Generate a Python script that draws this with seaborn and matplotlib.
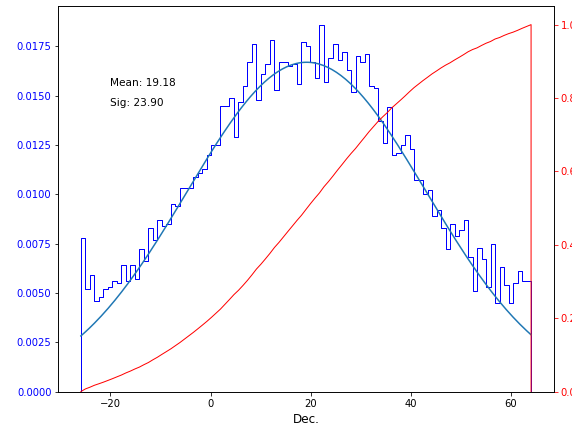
import numpy as np
import matplotlib
matplotlib.use("Agg")
import matplotlib.pyplot as plt
import seaborn as sns

# Dec. distribution: density histogram, 100 equal bins between dec_min and dec_max
dec_min = -25.9
dec_max = 64.0
n_bins = 100
density = [
    0.0078, 0.0052, 0.0059, 0.0046, 0.0048, 0.0052, 0.0053, 0.0056, 0.0055, 0.0064,
    0.0056, 0.0064, 0.0057, 0.0072, 0.0066, 0.0083, 0.0077, 0.0087, 0.0084, 0.0085,
    0.0095, 0.0094, 0.0103, 0.0103, 0.0103, 0.0109, 0.0111, 0.0113, 0.0120, 0.0125,
    0.0125, 0.0145, 0.0145, 0.0149, 0.0129, 0.0147, 0.0155, 0.0167, 0.0176, 0.0148,
    0.0161, 0.0166, 0.0178, 0.0153, 0.0167, 0.0167, 0.0165, 0.0166, 0.0156, 0.0177,
    0.0175, 0.0167, 0.0159, 0.0186, 0.0157, 0.0169, 0.0176, 0.0168, 0.0172, 0.0163,
    0.0152, 0.0170, 0.0167, 0.0171, 0.0155, 0.0154, 0.0137, 0.0126, 0.0144, 0.0120,
    0.0121, 0.0125, 0.0130, 0.0123, 0.0107, 0.0107, 0.0100, 0.0102, 0.0089, 0.0092,
    0.0083, 0.0072, 0.0085, 0.0079, 0.0082, 0.0087, 0.0068, 0.0051, 0.0073, 0.0067,
    0.0053, 0.0075, 0.0045, 0.0063, 0.0054, 0.0045, 0.0055, 0.0061, 0.0056, 0.0056,
]

# gaussian fit parameters shown on the plot
mean_dec = 19.18
sig_dec = 23.90

edges = np.linspace(dec_min, dec_max, n_bins + 1)
heights = np.array(density)
cumulative = np.cumsum(heights) / heights.sum()

# step outline of the histogram (like histtype='step'), closed down to 0 at both ends
step_x = np.repeat(edges, 2)
step_y = np.concatenate([[0.0], np.repeat(heights, 2), [0.0]])

xs = np.linspace(dec_min, dec_max, 200)
gauss = np.exp(-0.5 * ((xs - mean_dec) / sig_dec) ** 2) / (sig_dec * np.sqrt(2 * np.pi))

# cumulative curve: starts at 0, ends at 1, then drops back to 0 at the last edge
cum_x = np.concatenate([edges, [dec_max]])
cum_y = np.concatenate([[0.0], cumulative, [0.0]])

fig = plt.figure(figsize=(572 / 72, 425 / 72), dpi=72)
ax1 = fig.add_axes([0.1021, 0.0788, 0.8657, 0.9064])

# histogram + fitted normal
sns.lineplot(x=step_x, y=step_y, ax=ax1, color='blue', linewidth=1.0, sort=False, estimator=None)
sns.lineplot(x=xs, y=gauss, ax=ax1, color='C0', linewidth=1.5)
ax1.text(-20, 0.0155, f'Mean: {mean_dec:.2f}', fontsize=10.5)
ax1.text(-20, 0.0145, f'Sig: {sig_dec:.2f}', fontsize=10.5)
ax1.set_xlabel('Dec.', fontsize=12)
ax1.set_ylabel('')
ax1.set_ylim(0, 0.0186 * 1.05)
ax1.tick_params(axis='y', labelcolor='blue')

# cumulative on twin axis
ax2 = ax1.twinx()
sns.lineplot(x=cum_x, y=cum_y, ax=ax2, color='red', linewidth=1.0, sort=False, estimator=None)
ax2.set_ylim(0, 1.05)
ax2.set_ylabel('')
ax2.tick_params(axis='y', colors='red')

fig.savefig('out.png', dpi=72)
plt.close()
